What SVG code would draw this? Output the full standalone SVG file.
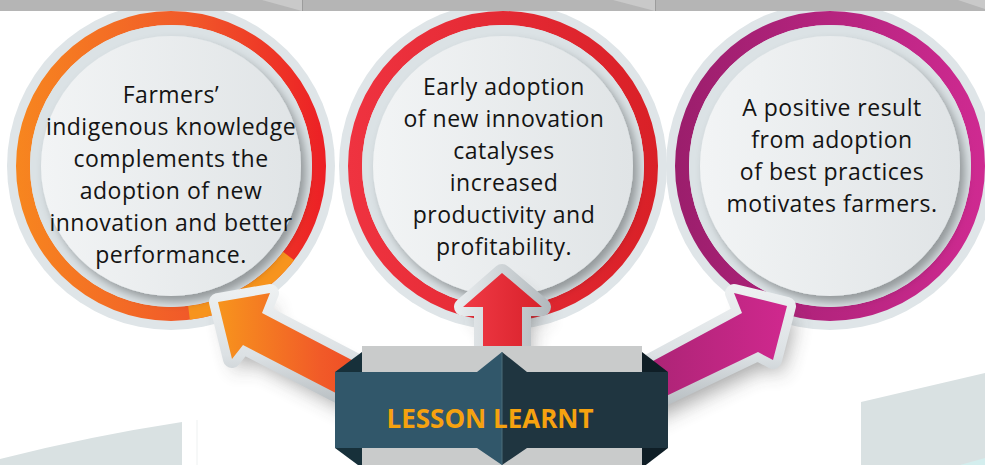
<svg xmlns="http://www.w3.org/2000/svg" width="985" height="465" viewBox="0 0 985 465">
<style>
.halo{fill:#dfe5e8}
.gap{fill:#dbe2e5}
.disc{fill:url(#discG);filter:url(#ds)}
.ct{font-family:"Open Sans","Noto Sans",sans-serif;font-size:23px;letter-spacing:0.5px;fill:#141414;text-anchor:middle}
.outline{stroke-width:18;stroke-linejoin:round}
.shadow{fill:#3a3a3a;opacity:0.45;filter:url(#blur)}
.lbl{font-family:"Open Sans","Noto Sans",sans-serif;font-size:26px;font-weight:bold;fill:#f6a20f;text-anchor:middle}
</style>
<defs>
<filter id="ds" x="-20%" y="-20%" width="140%" height="140%"><feDropShadow dx="5" dy="6" stdDeviation="5" flood-color="#000" flood-opacity="0.33"/></filter>
<filter id="blur" x="-30%" y="-30%" width="160%" height="160%"><feGaussianBlur stdDeviation="10"/></filter>
<linearGradient id="discG" x1="0" y1="0" x2="1" y2="0"><stop offset="0" stop-color="#f2f4f5"/><stop offset="1" stop-color="#e0e4e6"/></linearGradient>
<linearGradient id="r1" gradientUnits="userSpaceOnUse" x1="16" y1="0" x2="326" y2="0"><stop offset="0" stop-color="#f7861f"/><stop offset="0.55" stop-color="#f15a29"/><stop offset="1" stop-color="#ec1f25"/></linearGradient>
<linearGradient id="r2" gradientUnits="userSpaceOnUse" x1="348" y1="0" x2="658" y2="0"><stop offset="0" stop-color="#ef3340"/><stop offset="1" stop-color="#d92027"/></linearGradient>
<linearGradient id="r3" gradientUnits="userSpaceOnUse" x1="675" y1="0" x2="985" y2="0"><stop offset="0" stop-color="#9b1e6c"/><stop offset="1" stop-color="#cf2a91"/></linearGradient>
<linearGradient id="aO" gradientUnits="userSpaceOnUse" x1="218" y1="0" x2="390" y2="0"><stop offset="0" stop-color="#f7941d"/><stop offset="0.6" stop-color="#f15a28"/><stop offset="1" stop-color="#ee4123"/></linearGradient>
<linearGradient id="aR" gradientUnits="userSpaceOnUse" x1="463" y1="0" x2="542" y2="0"><stop offset="0" stop-color="#f03a45"/><stop offset="1" stop-color="#d8212b"/></linearGradient>
<linearGradient id="aM" gradientUnits="userSpaceOnUse" x1="614" y1="0" x2="787" y2="0"><stop offset="0" stop-color="#a3236f"/><stop offset="1" stop-color="#d0288e"/></linearGradient>
<linearGradient id="oV" gradientUnits="userSpaceOnUse" x1="0" y1="285" x2="0" y2="425"><stop offset="0" stop-color="#eef1f2"/><stop offset="0.5" stop-color="#dce1e4"/><stop offset="1" stop-color="#a9b0b4"/></linearGradient>
<linearGradient id="oH" gradientUnits="userSpaceOnUse" x1="455" y1="0" x2="550" y2="0"><stop offset="0" stop-color="#eaeef0"/><stop offset="1" stop-color="#b2b9bd"/></linearGradient>
</defs>

<g id="background">
<rect width="985" height="465" fill="#ffffff"/>
<path d="M0,465 L0,459 Q90,436 182,422 L182,465 Z" fill="#d9e1e2"/>
<path d="M861,465 L861,402 L985,373 L985,465 Z" fill="#d9e1e2"/>
<path d="M960,465 L985,458 L985,465 Z" fill="#d4eeee"/>
<line x1="197" y1="420" x2="197" y2="465" stroke="#eef1f1" stroke-width="1"/>
</g>

<g id="node-c1">
<circle class="halo" cx="171" cy="166" r="164"/>
<circle cx="171" cy="166" r="148" fill="none" stroke="url(#r1)" stroke-width="14"/>
<path d="M288.6,256.1 A148,148 0 0 1 189,312.9" fill="none" stroke="#f7941d" stroke-width="14"/>
<circle class="gap" cx="171" cy="166" r="141"/>
<circle class="disc" cx="171" cy="166" r="130"/>
<text class="ct" x="171" y="103">Farmers’</text>
<text class="ct" x="171" y="135">indigenous knowledge</text>
<text class="ct" x="171" y="167">complements the</text>
<text class="ct" x="171" y="199">adoption of new</text>
<text class="ct" x="171" y="231">innovation and better</text>
<text class="ct" x="171" y="263">performance.</text>
</g>

<g id="node-c2">
<circle class="halo" cx="503" cy="166" r="164"/>
<circle cx="503" cy="166" r="148" fill="none" stroke="url(#r2)" stroke-width="14"/>
<circle class="gap" cx="503" cy="166" r="141"/>
<circle class="disc" cx="503" cy="166" r="130"/>
<text class="ct" x="504" y="95">Early adoption</text>
<text class="ct" x="504" y="127">of new innovation</text>
<text class="ct" x="504" y="159">catalyses</text>
<text class="ct" x="504" y="191">increased</text>
<text class="ct" x="504" y="223">productivity and</text>
<text class="ct" x="504" y="255">profitability.</text>
</g>

<g id="node-c3">
<circle class="halo" cx="830" cy="166" r="164"/>
<circle cx="830" cy="166" r="148" fill="none" stroke="url(#r3)" stroke-width="14"/>
<circle class="gap" cx="830" cy="166" r="141"/>
<circle class="disc" cx="830" cy="166" r="130"/>
<text class="ct" x="832" y="116">A positive result</text>
<text class="ct" x="832" y="148">from adoption</text>
<text class="ct" x="832" y="180">of best practices</text>
<text class="ct" x="832" y="212">motivates farmers.</text>
</g>

<g id="topband">
<rect x="0" y="0" width="985" height="11" fill="#b5b5b5"/>
<path d="M262,0 L302,0 L302,11 Z" fill="#c9c9c9"/>
<line x1="302.5" y1="0" x2="302.5" y2="11" stroke="#9c9c9c"/>
<path d="M613,0 L655,0 L655,11 Z" fill="#c9c9c9"/>
<line x1="655.5" y1="0" x2="655.5" y2="11" stroke="#9c9c9c"/>
<path d="M958,0 L985,0 L985,9 Z" fill="#c9c9c9"/>
</g>

<g id="connectors">
<path class="shadow" d="M224,316 L276,307 L268,327 L396,394 L396,435 L249,359 L238,373 Z"/>
<path class="shadow" d="M510,287 L550,321 L530,321 L530,374 L491,374 L491,321 L471,321 Z"/>
<path class="shadow" d="M795,320 L781,374 L766,366 L622,435 L622,396 L750,327 L742,307 Z"/>
<path class="outline" d="M218,302 L270,293 L262,313 L390,380 L390,421 L243,345 L232,359 Z" fill="url(#aO)" stroke="url(#oV)"/>
<path class="outline" d="M502,273 L542,307 L522,307 L522,362 L483,362 L483,307 L463,307 Z" fill="url(#aR)" stroke="url(#oH)"/>
<path class="outline" d="M787,306 L773,360 L758,352 L614,421 L614,382 L742,313 L734,293 Z" fill="url(#aM)" stroke="url(#oV)"/>
<path d="M218,302 L270,293 L262,313 L390,380 L390,421 L243,345 L232,359 Z" fill="url(#aO)"/>
<path d="M502,273 L542,307 L522,307 L522,362 L483,362 L483,307 L463,307 Z" fill="url(#aR)"/>
<path d="M787,306 L773,360 L758,352 L614,421 L614,382 L742,313 L734,293 Z" fill="url(#aM)"/>
</g>

<g id="node-lesson">
<rect x="362" y="346" width="280" height="119" fill="#c9cbcb"/>
<path d="M335,372 L477,372 L502,352 L502,465 L477,448 L335,448 Z" fill="#31576a"/>
<path d="M502,352 L527,372 L668,372 L668,448 L527,448 L502,465 Z" fill="#1f3540"/>
<line x1="502" y1="352" x2="502" y2="465" stroke="#4d6e7b" stroke-width="1"/>
<path d="M335,372 L362,352 L362,372 Z" fill="#17303a"/>
<path d="M335,448 L362,448 L362,468 Z" fill="#17303a"/>
<path d="M668,372 L642,352 L642,372 Z" fill="#0f1e26"/>
<path d="M668,448 L642,448 L642,468 Z" fill="#0f1e26"/>
<text class="lbl" x="490" y="428">LESSON LEARNT</text>
</g>
</svg>
